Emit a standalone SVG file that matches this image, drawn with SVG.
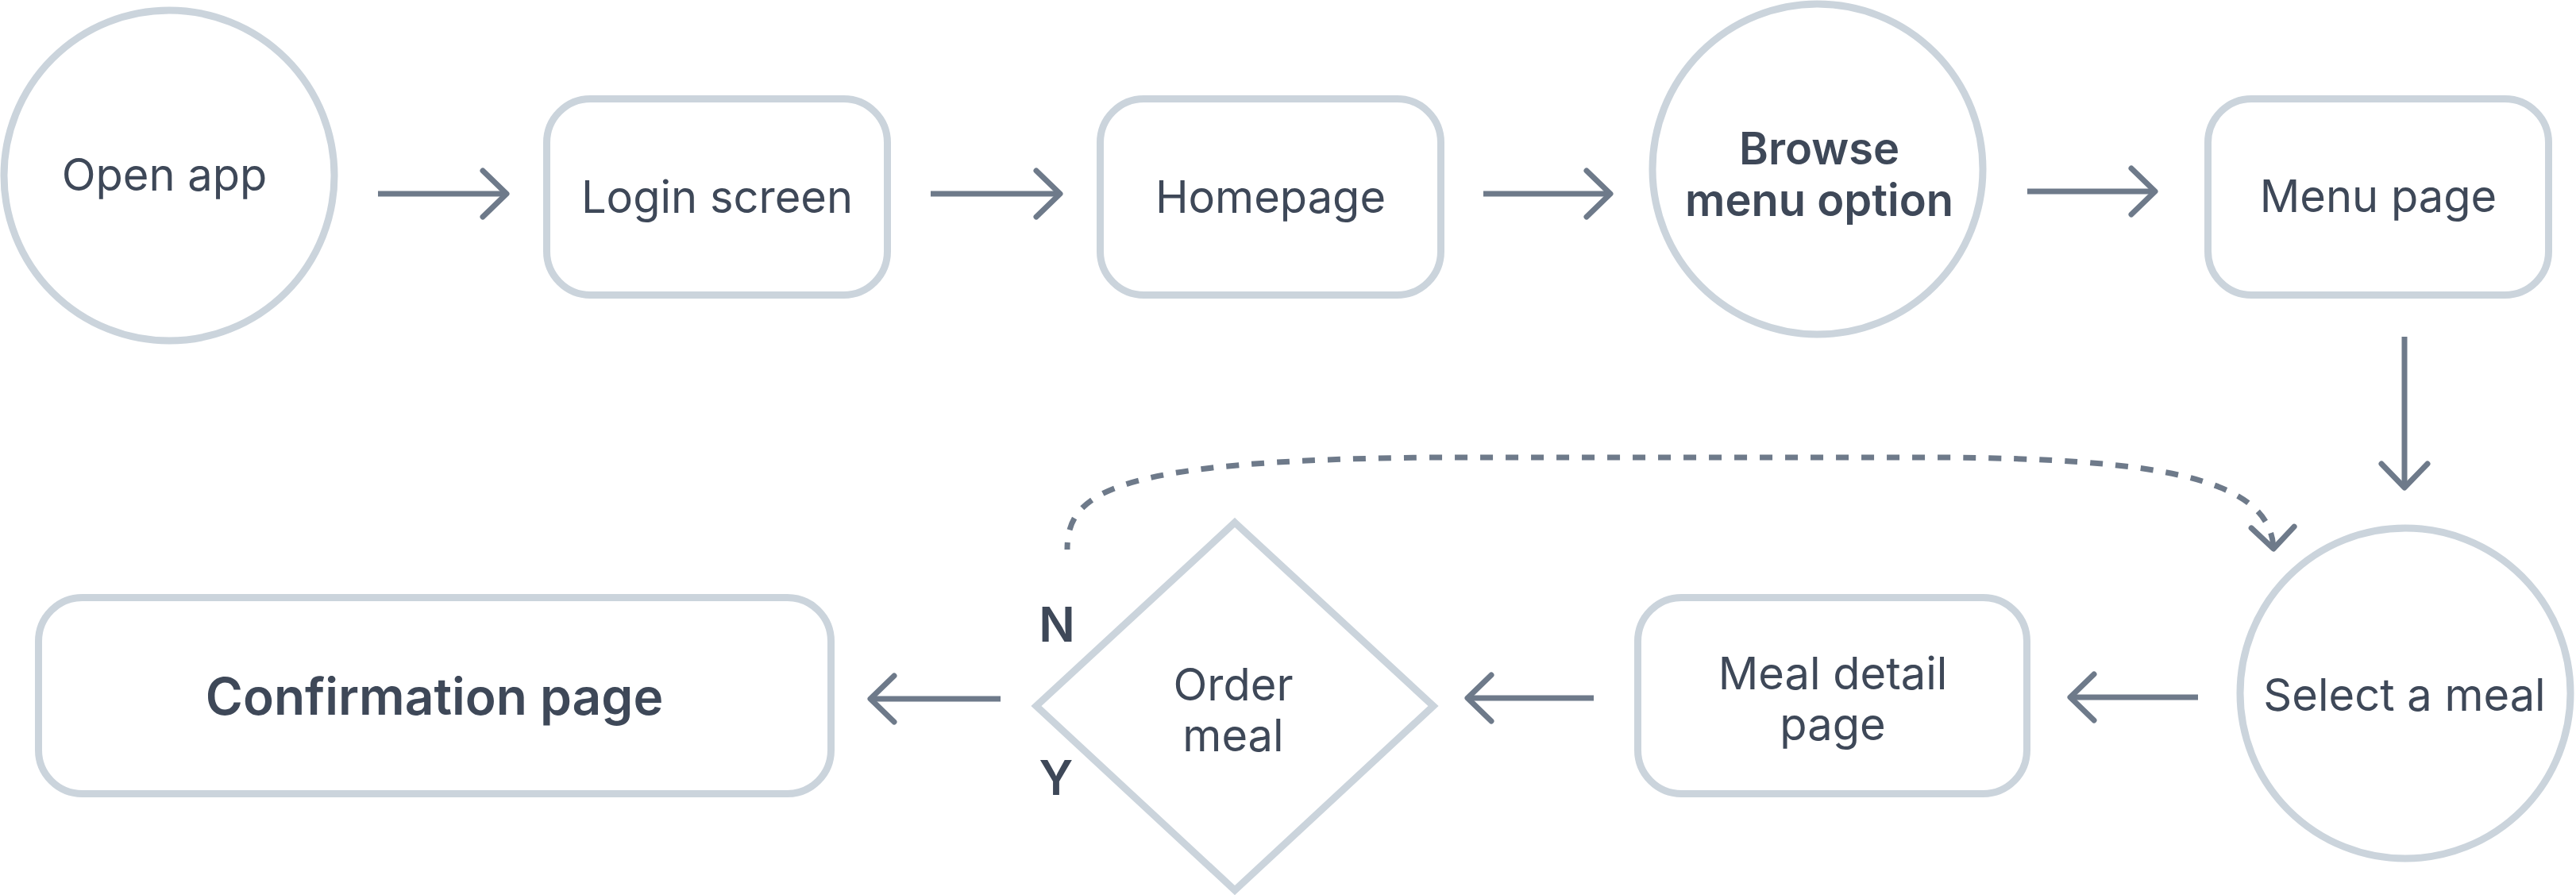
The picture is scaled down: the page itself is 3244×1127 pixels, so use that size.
<svg xmlns="http://www.w3.org/2000/svg" width="3244" height="1127" viewBox="0 0 3244 1127">
<style>
.node{fill:#ffffff;stroke:#cbd4dc;stroke-width:9}
.t{font-family:Inter,"Liberation Sans",sans-serif;font-size:56px;fill:#3e4858;text-anchor:middle}
.b{font-weight:600}
.c{fill:none;stroke:#6e7a8a;stroke-width:7}
.d{stroke-dasharray:16 16;stroke-dashoffset:7}
</style>
<defs>
<marker id="ah" markerUnits="userSpaceOnUse" markerWidth="80" markerHeight="80" viewBox="-40 -40 80 80" refX="0" refY="0" orient="auto">
<path d="M-30,-29 L0,0 L-30,29" fill="none" stroke="#6e7a8a" stroke-width="7" stroke-linecap="round" stroke-linejoin="round"/>
</marker>
<marker id="ah2" markerUnits="userSpaceOnUse" markerWidth="80" markerHeight="80" viewBox="-40 -40 80 80" refX="0" refY="0" orient="auto">
<path d="M-27,-27 L0,0 L-27,27" fill="none" stroke="#6e7a8a" stroke-width="7" stroke-linecap="round" stroke-linejoin="round"/>
</marker>
</defs>
<rect width="3244" height="1127" fill="#ffffff"/>
<g id="connectors">
<line class="c" x1="476" y1="244" x2="638" y2="244" marker-end="url(#ah)"/>
<line class="c" x1="1172" y1="244" x2="1335" y2="244" marker-end="url(#ah)"/>
<line class="c" x1="1868" y1="244" x2="2028" y2="244" marker-end="url(#ah)"/>
<line class="c" x1="2553" y1="241" x2="2714" y2="241" marker-end="url(#ah)"/>
<line class="c" x1="3028" y1="424" x2="3028" y2="614" marker-end="url(#ah)"/>
<line class="c" x1="2768" y1="878" x2="2607" y2="878" marker-end="url(#ah)"/>
<line class="c" x1="2007" y1="879" x2="1848" y2="879" marker-end="url(#ah)"/>
<line class="c" x1="1260" y1="880" x2="1096" y2="880" marker-end="url(#ah)"/>
<path class="c d" d="M1344,692 C1344,620 1400,580 1800,576 L2450,576 C2700,578 2860,598 2863,691" marker-end="url(#ah2)"/>
</g>
<g id="open-app">
<circle class="node" cx="213" cy="221" r="208"/>
<text class="t" x="207" y="240">Open app</text>
</g>
<g id="login-screen">
<rect class="node" x="688.5" y="124.5" width="429" height="247" rx="55"/>
<text class="t" x="903" y="268">Login screen</text>
</g>
<g id="homepage">
<rect class="node" x="1385.5" y="124.5" width="429" height="247" rx="55"/>
<text class="t" x="1600" y="268">Homepage</text>
</g>
<g id="browse-menu">
<circle class="node" cx="2289" cy="213" r="208"/>
<text class="t b" x="2291" y="207">Browse</text>
<text class="t b" x="2291" y="272">menu option</text>
</g>
<g id="menu-page">
<rect class="node" x="2780.5" y="124.5" width="429" height="247" rx="55"/>
<text class="t" x="2995" y="267">Menu page</text>
</g>
<g id="select-meal">
<circle class="node" cx="3029" cy="873" r="208"/>
<text class="t" x="3028" y="895">Select a meal</text>
</g>
<g id="meal-detail">
<rect class="node" x="2062.5" y="752.5" width="490" height="247" rx="55"/>
<text class="t" x="2308" y="868">Meal detail</text>
<text class="t" x="2308" y="932">page</text>
</g>
<g id="order-meal">
<polygon class="node" points="1555,658 1805,889 1555,1121 1305,889"/>
<text class="t" x="1553" y="882">Order</text>
<text class="t" x="1553" y="946">meal</text>
</g>
<g id="labels">
<text class="t b" x="1331" y="808" style="font-size:60px">N</text>
<text class="t b" x="1330" y="1001" style="font-size:60px">Y</text>
</g>
<g id="confirmation">
<rect class="node" x="48.5" y="752.5" width="998" height="247" rx="55"/>
<text class="t b" x="547" y="900" style="font-size:64px">Confirmation page</text>
</g>
</svg>
